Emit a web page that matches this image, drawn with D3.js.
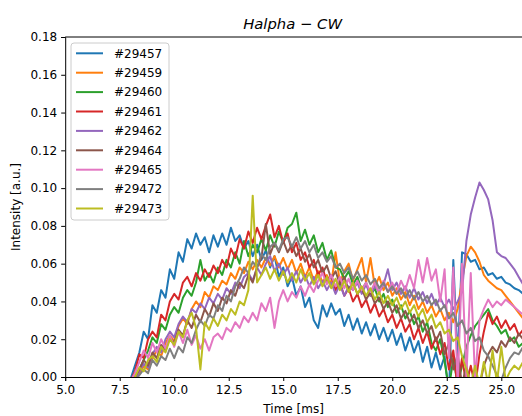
<!DOCTYPE html>
<html><head><meta charset="utf-8">
<script src="https://cdn.jsdelivr.net/npm/d3@7"></script>
<style>body{margin:0;background:#fff}text{font-family:"DejaVu Sans",sans-serif;fill:#000}</style>
</head><body><svg id="c" width="522" height="416"></svg>
<script>
const shots = ["#29457","#29459","#29460","#29461","#29462","#29464","#29465","#29472","#29473"];
const colors = ["#1f77b4","#ff7f0e","#2ca02c","#d62728","#9467bd","#8c564b","#e377c2","#7f7f7f","#bcbd22"];
const tStart = 7.6, tStep = 0.2; // ms, sample spacing of the series below
const s29457 = [-0.004,-0.003,
 -0.001,0.006,0.013,0.024,0.020, 0.038,0.034,0.046,0.042,0.057, 0.052,0.066,0.061,0.073,0.068,
 0.076,0.070,0.074,0.066,0.075, 0.069,0.076,0.070,0.079,0.072, 0.075,0.068,0.072,0.064,0.070,
 0.062,0.067,0.058,0.064,0.053, 0.058,0.048,0.053,0.043,0.048, 0.037,0.042,0.030,0.026,0.038,
 0.032,0.039,0.033,0.036,0.027, 0.033,0.025,0.031,0.023,0.029, 0.022,0.028,0.020,0.026,0.019,
 0.025,0.017,0.023,0.014,0.021, 0.013,0.019,0.008,0.016,0.005, 0.013,0.004,0.011,-0.010,0.062,
 0.008,0.066,0.065,0.061,0.062, 0.057,0.058,0.054,0.055,0.052, 0.053,0.050,0.049,0.047,0.046, 0.044];
const s29459 = [-0.005,-0.004,
 -0.003,-0.002,0.002,0.006,0.004, 0.010,0.014,0.011,0.018,0.022, 0.019,0.027,0.031,0.028,0.036,
 0.040,0.037,0.045,0.042,0.048, 0.046,0.051,0.049,0.055,0.052, 0.058,0.055,0.061,0.057,0.062,
 0.058,0.063,0.059,0.064,0.058, 0.063,0.057,0.062,0.055,0.060, 0.053,0.058,0.051,0.056,0.050,
 0.054,0.049,0.066,0.050,0.056, 0.060,0.051,0.057,0.063,0.050, 0.063,0.048,0.053,0.046,0.050,
 0.043,0.047,0.041,0.045,0.038, 0.043,0.036,0.040,0.034,0.038, 0.032,0.036,0.030,0.034,0.029,
 0.036,0.051,0.064,0.069,0.066, 0.061,0.054,0.051,0.049,0.047, 0.046,0.043,0.040,0.037,0.034, 0.031];
const s29460 = [-0.005,-0.004,
 -0.003,-0.001,0.004,0.009,0.014, 0.021,0.018,0.028,0.025,0.033, 0.037,0.034,0.042,0.046,0.043,
 0.050,0.062,0.051,0.055,0.050, 0.058,0.054,0.062,0.058,0.066, 0.060,0.072,0.064,0.070,0.066,
 0.073,0.067,0.075,0.069,0.077, 0.071,0.079,0.081,0.087,0.072, 0.078,0.070,0.075,0.066,0.071,
 0.062,0.067,0.058,0.057,0.052, 0.056,0.049,0.053,0.046,0.050, 0.043,0.047,0.040,0.044,0.037,
 0.041,0.034,0.038,0.031,0.035, 0.028,0.032,0.024,0.029,0.018, 0.014,0.020,0.008,-0.006,0.010,
 -0.004,0.006,0.016,0.022,0.027, 0.030,0.033,0.036,0.030,0.027, 0.023,0.025,0.019,0.021,0.016, 0.018];
const s29461 = [-0.004,-0.003,
 -0.002,0.003,0.012,0.010,0.020, 0.024,0.021,0.033,0.030,0.040, 0.044,0.041,0.050,0.053,0.048,
 0.055,0.051,0.057,0.053,0.059, 0.055,0.062,0.058,0.068,0.063, 0.073,0.068,0.077,0.071,0.079,
 0.073,0.080,0.086,0.074,0.080, 0.071,0.076,0.066,0.071,0.062, 0.066,0.058,0.062,0.054,0.058,
 0.050,0.054,0.046,0.050,0.043, 0.047,0.040,0.044,0.037,0.041, 0.034,0.039,0.032,0.036,0.029,
 0.033,0.026,0.031,0.024,0.028, 0.020,0.026,0.018,0.024,0.015, 0.021,0.012,0.018,0.004,0.014,
 -0.006,0.010,-0.004,0.006,-0.005, 0.012,0.024,0.034,0.028,0.032, 0.026,0.030,0.025,0.028,0.022, 0.025];
const s29462 = [-0.005,-0.004,
 -0.003,-0.001,0.003,0.007,0.005, 0.012,0.016,0.013,0.020,0.024, 0.021,0.028,0.032,0.029,0.036,
 0.034,0.039,0.036,0.042,0.039, 0.044,0.041,0.047,0.044,0.050, 0.047,0.053,0.055,0.051,0.058,
 0.054,0.060,0.064,0.056,0.060, 0.054,0.058,0.051,0.056,0.050, 0.054,0.048,0.053,0.047,0.051,
 0.046,0.050,0.044,0.049,0.043, 0.048,0.046,0.050,0.044,0.049, 0.043,0.048,0.045,0.049,0.057,
 0.046,0.050,0.044,0.048,0.042, 0.047,0.041,0.045,0.039,0.044, 0.038,0.042,0.037,0.041,0.036,
 0.040,0.045,0.072,0.086,0.095, 0.103,0.099,0.094,0.083,0.066, 0.064,0.063,0.060,0.057,0.053, 0.049];
const s29464 = [-0.005,-0.004,
 -0.003,0.000,0.004,0.009,0.006, 0.013,0.010,0.017,0.014,0.021, 0.018,0.025,0.022,0.030,0.026,
 0.033,0.029,0.036,0.032,0.039, 0.035,0.042,0.039,0.046,0.043, 0.050,0.047,0.054,0.050,0.058,
 0.063,0.081,0.065,0.071,0.066, 0.072,0.066,0.070,0.064,0.068, 0.061,0.065,0.058,0.062,0.055,
 0.059,0.052,0.056,0.049,0.053, 0.046,0.050,0.044,0.047,0.041, 0.045,0.039,0.042,0.036,0.040,
 0.034,0.038,0.031,0.035,0.029, 0.033,0.026,0.030,0.023,0.027, 0.019,0.024,0.012,0.018,0.004,
 0.012,-0.004,0.006,-0.006,0.004, -0.005,0.006,0.012,0.016,0.013, 0.019,0.016,0.021,0.018,0.023, 0.020];
const s29465 = [-0.005,-0.004,
 -0.002,0.002,0.008,0.014,0.010, 0.018,0.013,0.020,0.015,0.022, 0.016,0.024,0.018,0.025,0.017,
 0.022,0.015,0.020,0.014,0.021, 0.023,0.020,0.026,0.024,0.029, 0.026,0.032,0.029,0.034,0.030,
 0.039,0.035,0.042,0.026,0.040, 0.046,0.040,0.045,0.042,0.048, 0.043,0.049,0.045,0.051,0.055,
 0.049,0.054,0.048,0.053,0.047, 0.052,0.046,0.051,0.046,0.050, 0.045,0.050,0.044,0.051,0.045,
 0.050,0.044,0.051,0.046,0.054, 0.047,0.062,0.050,0.063,0.051, 0.057,0.040,0.057,0.010,0.058,
 -0.004,0.060,0.000,0.055,-0.002, 0.030,0.036,0.041,0.037,0.040, 0.038,0.041,0.039,0.037,0.035, 0.033];
const s29472 = [-0.006,-0.005,
 -0.004,-0.002,0.001,0.004,0.002, 0.009,0.006,0.011,0.009,0.015, 0.010,0.016,0.013,0.021,0.018,
 0.025,0.030,0.027,0.033,0.031, 0.038,0.035,0.043,0.040,0.048, 0.052,0.058,0.055,0.061,0.058,
 0.065,0.062,0.069,0.071,0.067, 0.073,0.074,0.069,0.074,0.068, 0.072,0.066,0.070,0.063,0.066,
 0.061,0.064,0.058,0.060,0.055, 0.058,0.052,0.056,0.051,0.054, 0.049,0.052,0.047,0.050,0.045,
 0.048,0.044,0.047,0.042,0.046, 0.041,0.045,0.040,0.043,0.038, 0.041,0.035,0.038,0.031,0.034,
 0.027,0.030,0.023,0.026,0.019, 0.021,0.014,0.011,0.006,0.001, -0.002,0.005,0.010,0.013,0.012, 0.016];
const s29473 = [-0.006,-0.005,
 -0.003,0.000,0.005,0.003,0.009, 0.011,0.008,0.016,0.013,0.020, 0.017,0.024,0.021,0.030,0.034,
 0.026,0.004,0.029,0.025,0.031, 0.027,0.033,0.030,0.036,0.033, 0.040,0.038,0.046,0.096,0.050,
 0.054,0.058,0.052,0.057,0.051, 0.056,0.050,0.055,0.050,0.057, 0.051,0.055,0.049,0.054,0.048,
 0.053,0.047,0.052,0.046,0.051, 0.045,0.050,0.044,0.048,0.043, 0.047,0.041,0.045,0.039,0.043,
 0.038,0.042,0.036,0.040,0.034, 0.038,0.032,0.036,0.029,0.033, 0.026,0.029,0.023,0.025,0.019,
 0.021,0.011,0.004,-0.004,0.006, -0.005,0.008,-0.004,0.014,-0.003, 0.016,-0.002,0.003,0.006,0.004, 0.008];
const seriesValues = [s29457,s29459,s29460,s29461,s29462,s29464,s29465,s29472,s29473];
const xTicks = [5.0,7.5,10.0,12.5,15.0,17.5,20.0,22.5,25.0];
const yTicks = [0.00,0.02,0.04,0.06,0.08,0.10,0.12,0.14,0.16,0.18];
const xDomain = [5, 25.95], yDomain = [0, 0.18];
const titleText = "Halpha \u2212 CW", xLabel = "Time [ms]", yLabel = "Intensity [a.u.]";

const svg = d3.select("#c");
const L = 65.2, R = 522, T = 37, B = 377;
const x = d3.scaleLinear().domain(xDomain).range([L, R]);
const y = d3.scaleLinear().domain(yDomain).range([B, T]);

svg.append("defs").append("clipPath").attr("id","clip")
  .append("rect").attr("x",L).attr("y",T).attr("width",R-L+2).attr("height",B-T);

const line = d3.line().x((d,i)=>x(tStart+i*tStep)).y(d=>y(d));
const g = svg.append("g").attr("clip-path","url(#clip)");
seriesValues.forEach((vals,k)=>{
  g.append("path").datum(vals).attr("d",line).attr("fill","none")
   .attr("stroke",colors[k]).attr("stroke-width",2).attr("stroke-linejoin","round");
});

const xa = svg.append("g").attr("transform",`translate(0,${B})`)
  .call(d3.axisBottom(x).tickValues(xTicks).tickFormat(d3.format(".1f")).tickSizeOuter(0).tickSize(4).tickPadding(4));
const ya = svg.append("g").attr("transform",`translate(${L},0)`)
  .call(d3.axisLeft(y).tickValues(yTicks).tickFormat(d3.format(".2f")).tickSizeOuter(0).tickSize(4).tickPadding(4));
[xa,ya].forEach(a=>{
  a.selectAll("text").attr("font-size",12).attr("font-family","DejaVu Sans").attr("fill","#000");
  a.selectAll("line").attr("stroke","#000");
  a.select(".domain").attr("stroke","#000").attr("stroke-width",1);
});
svg.append("line").attr("x1",L).attr("x2",R).attr("y1",T).attr("y2",T).attr("stroke","#000").attr("stroke-width",1);

// legend
const lg = svg.append("g");
lg.append("rect").attr("x",71).attr("y",43).attr("width",98).attr("height",177).attr("rx",3)
  .attr("fill","#fff").attr("fill-opacity",0.8).attr("stroke","#cccccc").attr("stroke-width",1);
shots.forEach((s,i)=>{
  const cy = 53.3 + i*19.4;
  lg.append("line").attr("x1",76).attr("x2",103).attr("y1",cy).attr("y2",cy)
    .attr("stroke",colors[i]).attr("stroke-width",2);
  lg.append("text").attr("x",114).attr("y",cy).attr("dy","0.36em").attr("font-size",12).text(s);
});

svg.append("text").attr("x",(L+R)/2-1).attr("y",29).attr("text-anchor","middle")
  .attr("font-size",14.8).attr("font-style","italic").text(titleText);
svg.append("text").attr("x",(L+R)/2).attr("y",413).attr("text-anchor","middle").attr("font-size",12).text(xLabel);
svg.append("text").attr("transform","translate(19.5,207) rotate(-90)").attr("text-anchor","middle").attr("font-size",12).text(yLabel);
</script></body></html>
